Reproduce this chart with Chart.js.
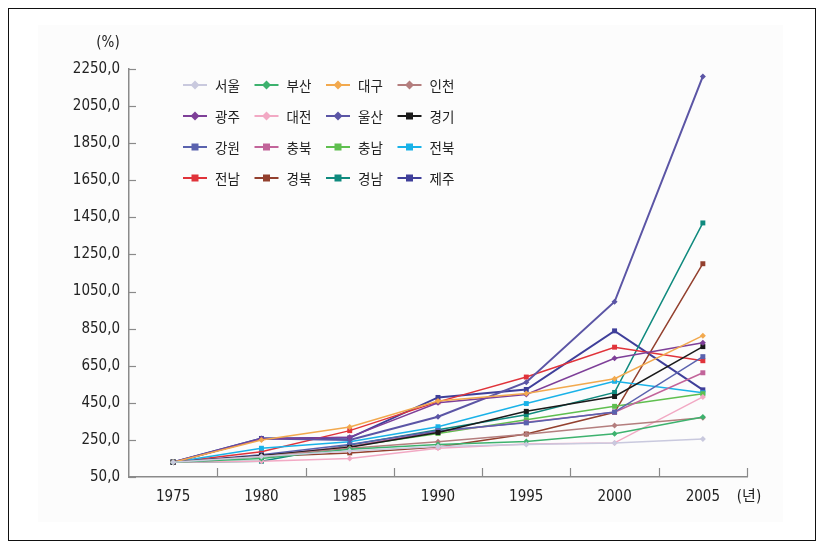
<!DOCTYPE html>
<html>
<head>
<meta charset="utf-8">
<script src="https://cdn.jsdelivr.net/npm/chart.js@4.4.1/dist/chart.umd.min.js"></script>
<style>
  html, body { margin: 0; padding: 0; background: #fff; }
  #wrap { position: relative; width: 827px; height: 548px; }
  #frame { position: absolute; left: 8px; top: 8px; width: 808px; height: 533px; border: 1.5px solid #111; box-sizing: border-box; }
  #panel { position: absolute; left: 38px; top: 25px; width: 745px; height: 497px; background: #fcfcfc; }
  canvas { position: absolute; left: 0; top: 0; }
</style>
</head>
<body>
<div id="wrap">
  <div id="frame"></div>
  <div id="panel"></div>
  <canvas id="grafica" width="827" height="548"></canvas>
</div>
<script>
// 연도 (x축)
const years = ["1975", "1980", "1985", "1990", "1995", "2000", "2005"];

// 지역별 값 (%)
const seoul     = [130, 160, 190, 215, 225, 234, 255];
const busan     = [130, 150, 200, 225, 241, 283, 374];
const daegu     = [130, 250, 320, 460, 500, 580, 812];
const incheon   = [130, 160, 205, 240, 280, 328, 369];
const gwangju   = [130, 255, 265, 450, 495, 690, 774];
const daejeon   = [130, 135, 150, 205, 228, 234, 482];
const ulsan     = [130, 258, 250, 375, 561, 995, 2210];
const gyeonggi  = [130, 165, 210, 290, 404, 484, 753];
const gangwon   = [130, 170, 225, 300, 342, 400, 699];
const chungbuk  = [130, 165, 215, 295, 345, 399, 612];
const chungnam  = [130, 160, 215, 285, 359, 431, 499];
const jeonbuk   = [130, 205, 240, 321, 446, 566, 504];
const jeonnam   = [130, 186, 300, 455, 589, 750, 677];
const gyeongbuk = [130, 160, 180, 212, 282, 399, 1200];
const gyeongnam = [130, 135, 223, 305, 386, 506, 1420];
const jeju      = [130, 258, 261, 479, 522, 838, 520];

// y축 눈금
const yMin = 50, yMax = 2250, yStep = 200;

const regionNames = ["서울", "부산", "대구", "인천", "광주", "대전", "울산", "경기",
                     "강원", "충북", "충남", "전북", "전남", "경북", "경남", "제주"];
const regionData = [seoul, busan, daegu, incheon, gwangju, daejeon, ulsan, gyeonggi,
                    gangwon, chungbuk, chungnam, jeonbuk, jeonnam, gyeongbuk, gyeongnam, jeju];
const regionColors = ["#c9c9de", "#3db26e", "#f2a94e", "#b47e7e", "#7e3f98", "#f2a9c4", "#5b55a5", "#1a1a1a",
                      "#5a62ae", "#c2649a", "#5fbf4f", "#19b2e8", "#e0333a", "#93402e", "#0f8a7e", "#3f3f9a"];
// 앞 7개는 마름모, 나머지는 사각형
const regionShapes = regionNames.map((_, i) => i < 7 ? "rectRot" : "rect");

const FONT = "'Liberation Sans Narrow', 'DejaVu Sans Condensed', 'Noto Sans CJK KR', sans-serif";
const FONT_KR = "'Noto Sans CJK KR', sans-serif";
const AXIS = "#8a8a8a";

const datasets = regionNames.map((name, i) => ({
  label: name,
  data: regionData[i],
  borderColor: regionColors[i],
  backgroundColor: regionColors[i],
  borderWidth: (name === "울산" || name === "제주") ? 2 : 1.5,
  pointStyle: regionShapes[i],
  pointRadius: regionShapes[i] === "rect" ? 3.5 : 3,
  pointBorderWidth: 0,
  tension: 0
}));

// 안쪽 눈금, 축 단위, 범례
const extras = {
  id: "extras",
  afterDraw(chart) {
    const ctx = chart.ctx;
    const area = chart.chartArea;
    const ys = chart.scales.y;
    ctx.save();
    ctx.strokeStyle = AXIS;
    ctx.lineWidth = 1.2;
    // y 눈금 (안쪽)
    ys.ticks.forEach((t, i) => {
      const y = Math.round(ys.getPixelForTick(i)) + 0.5;
      ctx.beginPath();
      ctx.moveTo(area.left, y);
      ctx.lineTo(area.left + 7, y);
      ctx.stroke();
    });
    // x 눈금 (카테고리 경계, 안쪽)
    const w = (area.right - area.left) / years.length;
    for (let i = 1; i <= years.length; i++) {
      const x = Math.round(area.left + i * w) + 0.5;
      ctx.beginPath();
      ctx.moveTo(x, area.bottom);
      ctx.lineTo(x, area.bottom - 9);
      ctx.stroke();
    }
    // 단위
    ctx.fillStyle = "#222";
    ctx.font = "15px " + FONT;
    ctx.textAlign = "center";
    ctx.textBaseline = "middle";
    ctx.fillText("(%)", area.left - 21, area.top - 26);
    ctx.fillText("(년)", area.right + 2, area.bottom + 20);

    // 범례 4x4
    ctx.textAlign = "left";
    ctx.font = "13.5px " + FONT_KR;
    chart.data.datasets.forEach((ds, i) => {
      const col = i % 4, row = Math.floor(i / 4);
      const cx = area.left + 66 + col * 71.5;
      const cy = area.top + 16 + row * 31;
      ctx.strokeStyle = ds.borderColor;
      ctx.lineWidth = 2;
      ctx.beginPath();
      ctx.moveTo(cx - 12, cy);
      ctx.lineTo(cx + 12, cy);
      ctx.stroke();
      ctx.fillStyle = ds.backgroundColor;
      const r = 4.5;
      ctx.beginPath();
      if (ds.pointStyle === "rectRot") {
        ctx.moveTo(cx, cy - r); ctx.lineTo(cx + r, cy); ctx.lineTo(cx, cy + r); ctx.lineTo(cx - r, cy);
      } else {
        ctx.rect(cx - 3.5, cy - 3.5, 7, 7);
      }
      ctx.closePath();
      ctx.fill();
      ctx.fillStyle = "#222";
      ctx.fillText(ds.label, cx + 20, cy + 1);
    });
    ctx.restore();
  }
};

new Chart(document.getElementById("grafica").getContext("2d"), {
  type: "line",
  data: { labels: years, datasets },
  options: {
    responsive: false,
    animation: false,
    layout: { padding: { left: 0, top: 69, right: 80, bottom: 0 } },
    plugins: { legend: { display: false }, tooltip: { enabled: false } },
    scales: {
      x: {
        offset: true,
        grid: { display: false, drawTicks: false },
        border: { color: AXIS, width: 1.5 },
        ticks: { color: "#222", font: { family: FONT, size: 15 }, padding: 11, maxRotation: 0 },
        afterFit(s) { s.height = 71; }
      },
      y: {
        min: yMin,
        max: yMax,
        grid: { display: false, drawTicks: false },
        border: { color: AXIS, width: 1.5 },
        ticks: {
          stepSize: yStep,
          color: "#222",
          font: { family: FONT, size: 15 },
          padding: 9,
          callback: v => v.toFixed(1).replace(".", ",")
        },
        afterFit(s) { s.width = 129; }
      }
    }
  },
  plugins: [extras]
});
</script>
</body>
</html>
